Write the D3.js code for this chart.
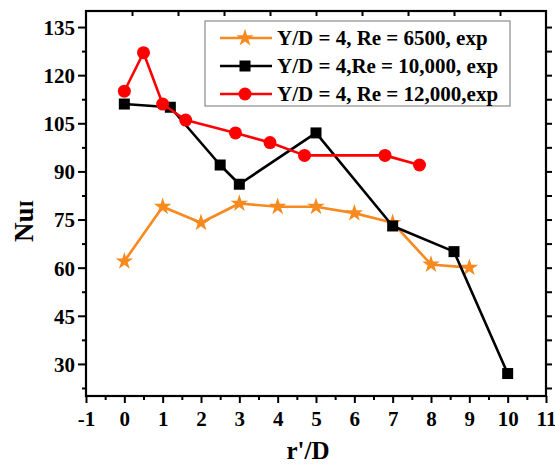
<!DOCTYPE html>
<html><head><meta charset="utf-8">
<script src="https://cdn.jsdelivr.net/npm/d3@7/dist/d3.min.js"></script>
<style>body{margin:0;background:#fff}svg{display:block}text{font-family:"Liberation Serif","Times New Roman",serif;font-weight:bold}</style>
</head><body>
<script>
const xTicks = [-1,0,1,2,3,4,5,6,7,8,9,10,11];
const yTicks = [30,45,60,75,90,105,120,135];

const s1Name = "Y/D = 4, Re = 6500, exp";
const s1X = [0,1,2,3,4,5,6,7,8,9];
const s1Y = [62,79,74,80,79,79,77,74,61,60];

const s2Name = "Y/D = 4,Re = 10,000, exp";
const s2X = [0,1.2,2.5,3,5,7,8.6,10];
const s2Y = [111,110,92,86,102,73,65,27];

const s3Name = "Y/D = 4, Re = 12,000,exp";
const s3X = [0,0.5,1,1.6,2.9,3.8,4.7,6.8,7.7];
const s3Y = [115,127,111,106,102,99,95,95,92];

const W=555,H=464;
const L=86,R=546,T=11,B=396;
const svg=d3.select("body").append("svg").attr("width",W).attr("height",H);
const x=d3.scaleLinear().domain([-1,11]).range([L,R]);
const y=d3.scaleLinear().domain([20,140]).range([B,T]);
const xTop=d3.scaleLinear().domain([0,10]).range([L,R]);

const ORANGE="#f7891f", RED="#ff0000", BLACK="#000";

// axes
const gB=svg.append("g").attr("transform",`translate(0,${B})`)
  .call(d3.axisBottom(x).tickValues(xTicks).tickFormat(d=>String(d)).tickSize(7).tickSizeOuter(0));
svg.append("g").attr("transform",`translate(0,${B})`)
  .call(d3.axisBottom(x).tickValues(d3.range(-0.5,11,1)).tickFormat("").tickSize(4).tickSizeOuter(0));
const gL=svg.append("g").attr("transform",`translate(${L},0)`)
  .call(d3.axisLeft(y).tickValues(yTicks).tickFormat(d=>String(d)).tickSize(8).tickSizeOuter(0));
svg.append("g").attr("transform",`translate(${L},0)`)
  .call(d3.axisLeft(y).tickValues(d3.range(22.5,140,15)).tickFormat("").tickSize(4).tickSizeOuter(0));
svg.append("g").attr("transform",`translate(${R},0)`)
  .call(d3.axisLeft(y).tickValues(d3.range(22.5,136,7.5)).tickFormat("").tickSize(-6).tickSizeOuter(0));
svg.append("g").attr("transform",`translate(0,${T})`)
  .call(d3.axisTop(xTop).tickValues(d3.range(1,10)).tickFormat("").tickSize(-5).tickSizeOuter(0));
svg.selectAll(".domain").remove();
svg.selectAll(".tick line").attr("stroke","#000").attr("stroke-width",2);
gB.selectAll("text").attr("font-size",21).attr("y",15).attr("dy","0.71em").attr("fill","#000");
gL.selectAll("text").attr("font-size",21).attr("x",-11).attr("dy","0.35em").attr("fill","#000");

svg.append("rect").attr("x",L).attr("y",T).attr("width",R-L).attr("height",B-T)
  .attr("fill","none").attr("stroke","#000").attr("stroke-width",2.2);

// titles
svg.append("text").attr("x",308).attr("y",459).attr("text-anchor","middle").attr("font-size",25).text("r'/D");
const yl=svg.append("text").attr("transform","translate(33,221) rotate(-90)").attr("text-anchor","middle").attr("font-size",27);
yl.append("tspan").text("Nu");
yl.append("tspan").attr("font-size",19).text("I");

const line=d3.line();
function drawSeries(xs,ys,color,type){
  const pts=xs.map((v,i)=>[x(v),y(ys[i])]);
  svg.append("path").attr("d",line(pts)).attr("fill","none").attr("stroke",color).attr("stroke-width",2.6).attr("stroke-linejoin","round");
  pts.forEach(p=>marker(p[0],p[1],color,type));
}
function marker(cx,cy,color,type){
  if(type==="star"){
    svg.append("path").attr("d",d3.symbol(d3.symbolStar,95)()).attr("transform",`translate(${cx},${cy})`).attr("fill",color);
  } else if(type==="square"){
    svg.append("rect").attr("x",cx-5.5).attr("y",cy-5.5).attr("width",11).attr("height",11).attr("fill",color);
  } else {
    svg.append("circle").attr("cx",cx).attr("cy",cy).attr("r",6.5).attr("fill",color);
  }
}
drawSeries(s1X,s1Y,ORANGE,"star");
drawSeries(s2X,s2Y,BLACK,"square");
drawSeries(s3X,s3Y,RED,"circle");

// legend
svg.append("rect").attr("x",205).attr("y",21).attr("width",305).attr("height",85)
  .attr("fill","#fff").attr("stroke","#8a8a8a").attr("stroke-width",1.2);
const leg=[[s1Name,ORANGE,"star"],[s2Name,BLACK,"square"],[s3Name,RED,"circle"]];
const rows=[38,66,94];
leg.forEach((d,i)=>{
  svg.append("line").attr("x1",220).attr("x2",272).attr("y1",rows[i]).attr("y2",rows[i]).attr("stroke",d[1]).attr("stroke-width",2.6);
  marker(245,rows[i],d[1],d[2]);
  svg.append("text").attr("x",277).attr("y",rows[i]).attr("dy","0.33em").attr("font-size",21).text(d[0]);
});
</script>
</body></html>
